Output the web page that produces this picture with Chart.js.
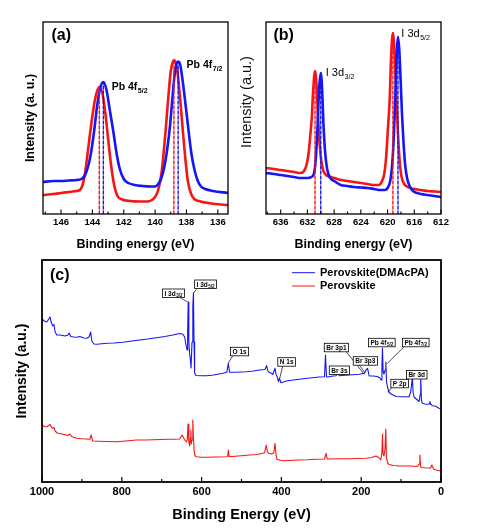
<!DOCTYPE html>
<html><head><meta charset="utf-8">
<script src="https://cdn.jsdelivr.net/npm/chart.js@4.4.1/dist/chart.umd.min.js"></script>
<style>
html,body{margin:0;padding:0;background:#fff;}
#wrap{position:relative;width:488px;height:529px;overflow:hidden;background:#fff;}
canvas{position:absolute;}
</style></head><body>
<div id="wrap">
<canvas id="ca" style="left:0;top:0;"></canvas>
<canvas id="cb" style="left:230px;top:0;"></canvas>
<canvas id="cc" style="left:0;top:250px;"></canvas>
</div>
<script>
// ---------------- DATA ----------------
// Panel (a) Pb 4f
const aEnergyBlue = [147.15,146.5,146,145.5,145,144.7,144.5,144.3,144.1,143.88,143.7,143.5,143.3,143.1,142.9,142.67,142.45,142.25,142.0,141.7,141.3,140.8,140.3,
  140.0,139.8,139.6,139.4,139.2,139.05,138.9,138.75,138.6,138.45,138.3,138.1,137.9,137.7,137.5,137.3,137.1,136.8,136.3,135.35];
const aIntBlue = [32,33,33,33.5,34,35,38,46,60,84,108,126,132,124,105,83,60,45,35,31,29,28,27.5,
  27.5,30,36,48,68,88,115,140,152,152,140,115,88,62,45,34,28,25,23,21];
const aEnergyRed = [147.15,146.5,146,145.5,145.0,144.8,144.65,144.5,144.35,144.2,144.0,143.8,143.56,143.35,143.15,142.99,142.8,142.6,142.4,142.1,141.6,141,140.5,
  140.2,140.0,139.8,139.6,139.45,139.33,139.15,139.0,138.78,138.6,138.4,138.23,138.05,137.9,137.7,137.5,137.2,136.8,136.2,135.35];
const aIntRed = [19,20,21,22,23,24,28,38,55,74,98,117,127,120,98,74,48,28,18,14.5,13,12.5,12.5,
  14,17,24,40,62,83,118,143,154,145,115,83,52,32,20,15,13,11.5,10,9];
const aPeakBlueE = [143.3, 138.53];
const aPeakBlueI = [132, 153];
const aPeakRedE = [143.56, 138.8];
const aPeakRedI = [127, 154];
const aTicksMajor = [146,144,142,140,138,136];
const aTicksMinor = [147,145,143,141,139,137];

// Panel (b) I 3d
const bEnergyRed = [638.2,637,636,635,634,633,632.5,632.1,631.8,631.55,631.36,631.15,630.86,630.6,630.4,630.15,629.9,629.6,629.2,628.5,628,627,626,625,624,623,622,621.3,
  620.9,620.5,620.2,619.95,619.7,619.45,619.2,618.95,618.65,618.4,618.15,617.9,617.5,617,616,615,614,613,612];
const bIntRed = [46,45,44,43,42,41,43,50,62,80,95,122,143,125,95,68,52,43,39,37,36,34,33,32,31,30,29,29,
  32,40,58,85,112,160,181,160,110,75,50,37,30,27,25,24,23,22.5,22];
const bEnergyBlue = [638.2,637,636,635,634,633,632,631.4,631.0,630.75,630.5,630.25,630.0,629.8,629.6,629.35,629.05,628.6,628,627,626,625,624,623,622,621,620.4,
  620.0,619.6,619.3,619.05,618.8,618.6,618.44,618.25,618.05,617.84,617.6,617.35,617.05,616.7,616.2,615,614,613,612];
const bIntBlue = [41,40,39,38,37,36,36,37,41,55,85,125,141,125,90,62,45,36,33,29,28,27,26.5,26,25,24,24,
  26,33,50,80,125,165,177,165,135,100,70,48,35,28,23,20,19,18,17];
const bPeakRedE = [630.86, 619.2];
const bPeakRedI = [143, 181];
const bPeakBlueE = [630.0, 618.44];
const bPeakBlueI = [141, 177];
const bTicksMajor = [636,632,628,624,620,616,612];
const bTicksMinor = [638,634,630,626,622,618,614];

// Panel (c) survey
const cEnergyBlue = [1000,994,988,983,980,977,973,970,967,963,
  955,948,942,935,932,928,920,913,905,895,
  888,882,878,875,870,862,850,838,820,797,
  775,755,735,713,692,672,655,647,642.5,639,
  636.5,635,633.5,632,630,628,626.5,624,622,620.5,
  619,617.5,614,600,588,570,546,537,533,530,
  513,488,470,455,441,437,434,431,425,421.5,
  416,413,410.5,407.5,405,401,395,388,370,355,
  340,322,305,292,289.5,287,285,270,263,259,
  255,240,230,205,192.5,188,184,180,170,160,
  153,150,148,146.7,145,143,140,138.3,136.5,134,
  131,125,120,113,100,90,80,76,73,71.7,
  70,67.5,62,59,55,52,50.8,49,46.7,40,
  34,30,28.3,26,21.7,15,10,5,0];
const cIntBlue = [163,161,160,163,165,160,156,157.5,150,147,
  147,146.5,146,147,149,145.5,145,144.7,145.5,144,
  143.7,145,150,141,138,137.7,138.2,138.7,139,139.7,
  141,142,143,144.3,145.5,147,148.5,147.7,145,137,
  132,150,180,140,128,122,114,140,175,189,
  140,109,106.5,106.3,106.3,107,108.7,109.7,118.7,109.7,
  109.7,110.3,111,112,112.5,116.5,111,109.7,108.7,107.5,
  113.7,107,105.3,100.3,103.7,99.3,100,101,102,102.7,
  103.5,104.3,105,105.3,127,105.3,105,106,106.3,108.7,
  106.3,106.8,107,107.7,108.7,112,113.7,106,106,105.5,
  104,102,115,134,110,108,112,120,100,95,
  90,88,87,85.5,85.3,85.3,85.3,90,100,105,
  90,85,83,82,80.3,88,106,82,78.7,78,
  77.7,78,80.5,78,76.3,76,75,73.7,73];
const cEnergyRed = [1000,994,988,983,980,976,973,970,967,962,
  955,945,935,930,926,913,900,880,877,873,
  860,840,813,790,763,740,720,700,688,670,
  655,649,645,642,638,636,634,632,630,628,
  627,626,624,622,620.5,618.5,616,613,600,588,
  560,538,534.5,533,531,515,500,480,460,442,
  438,435,432,425,419,416,413,411,405,397,
  380,355,333,313,292,288,285,260,230,210,
  188,175,163,155,151,148,146.7,145.2,143,140.5,
  138.3,136.8,133,130,120,105,90,75,62,58,
  55,53,51,48,40,30,26,23,21,18,
  10,3,0];
const cIntRed = [57,55.5,55.3,56.5,57.7,54.5,53.7,54.5,51,49,
  48.5,47.5,46.5,48,45.5,43.7,43.2,42.7,47,41,
  40.8,40.5,40.3,41,42,42,42.3,42.5,42.7,42.7,
  43,47,44,42,40,42,58,40,36,45,
  52,38,42,62,45,30,26,25.3,24.8,24.7,
  25,25.3,25.5,32,25.3,25.8,26.3,27,27.5,29.3,
  37,30,28.7,28,29,38.7,26,22.7,22,21.3,
  21.5,22,22.2,22.7,23,28.7,23,23.2,23.3,23.5,
  23.7,24.5,26,24,22,30,48,28,26,32,
  53,24,18.5,17.5,16.5,16,16,16,15.5,16,
  18,27,15,14.5,14.2,14,14,17,15,12.7,
  11.8,11.3,11];
const cTicksMajor = [1000,800,600,400,200,0];
const cTicksMinor = [900,700,500,300,100];
const cSeriesNames = ['Perovskite(DMAcPA)','Perovskite'];

// ---------------- HELPERS ----------------
const FONT = "Arial, 'Liberation Sans', Helvetica, sans-serif";
const BLUE = '#1515f5';
const RED = '#f51515';
function pts(xs, ys){ return xs.map((x,i)=>({x:x, y:ys[i]})); }
function allTicks(major, minor){ return major.concat(minor).sort((p,q)=>p-q); }
function dashSets(es, is, color){
  return es.map((e,i)=>({data:[{x:e,y:0},{x:e,y:is[i]}], borderColor:color, borderWidth:1.4, borderDash:[3,2], pointRadius:0, tension:0}));
}
function xScale(min,max,major,minor,tickFont,tickPad,title,titleFont,titlePad,height){
  return {
    type:'linear', min:min, max:max, reverse:true,
    afterBuildTicks: s => { s.ticks = allTicks(major,minor).map(v=>({value:v})); },
    afterFit: s => { s.height = height; },
    ticks:{ autoSkip:false, maxRotation:0, minRotation:0, padding:tickPad, color:'#000', font:tickFont,
      callback: v => major.includes(v) ? String(v) : '' },
    grid:{ display:false, drawTicks:false },
    border:{ display:false },
    title:{ display:true, text:title, color:'#000', font:titleFont, padding:{top:0,bottom:titlePad} }
  };
}
function yScale(max, width, title, titleFont, titlePad){
  return {
    type:'linear', min:0, max:max,
    afterFit: s => { s.width = width; },
    ticks:{ display:false }, grid:{ display:false, drawTicks:false }, border:{ display:false },
    title: title ? { display:true, text:title, color:'#000', font:titleFont, padding:{top:titlePad,bottom:0} } : { display:false }
  };
}
function subText(ctx, x, y, main, sub, font, subFont, subDy){
  ctx.font = font; ctx.fillText(main, x, y);
  const w = ctx.measureText(main).width;
  ctx.font = subFont; ctx.fillText(sub, x + w + 0.5, y + subDy);
  return w + 0.5 + ctx.measureText(sub).width;
}
function decor(cfg){
  return {
    id:'decor',
    afterDatasetsDraw(chart){
      const ctx = chart.ctx, ca = chart.chartArea, x = chart.scales.x, y = chart.scales.y;
      ctx.save();
      ctx.strokeStyle = '#000'; ctx.fillStyle = '#000';
      ctx.lineWidth = cfg.frame;
      ctx.strokeRect(ca.left, ca.top, ca.right - ca.left, ca.bottom - ca.top);
      ctx.lineWidth = cfg.tickW;
      x.ticks.forEach(t => {
        const px = x.getPixelForValue(t.value);
        const len = cfg.major.includes(t.value) ? cfg.majorLen : cfg.minorLen;
        ctx.beginPath(); ctx.moveTo(px, ca.bottom); ctx.lineTo(px, ca.bottom - len); ctx.stroke();
      });
      ctx.font = 'bold 16px ' + FONT; ctx.textBaseline = 'middle'; ctx.textAlign = 'left';
      ctx.fillText(cfg.letter, ca.left + cfg.letterDx, ca.top + cfg.letterDy);
      ctx.textBaseline = 'alphabetic';
      (cfg.labels || []).forEach(l => {
        subText(ctx, x.getPixelForValue(l.e), y.getPixelForValue(l.v), l.main, l.sub, l.font, l.subFont, l.subDy);
      });
      if (cfg.extra) cfg.extra(chart, ctx);
      ctx.restore();
    }
  };
}
function baseOptions(pad, scales){
  return {
    responsive:false, animation:false, devicePixelRatio: window.devicePixelRatio || 1,
    layout:{ padding: pad },
    plugins:{ legend:{display:false}, tooltip:{enabled:false} },
    elements:{ line:{ borderJoinStyle:'round', borderCapStyle:'round' } },
    scales: scales
  };
}
function sizeCanvas(id, w, h){ const c = document.getElementById(id); c.width = w; c.height = h; c.style.width = w+'px'; c.style.height = h+'px'; return c; }

// ---------------- PANEL (a) ----------------
new Chart(sizeCanvas('ca',244,258), {
  type:'line',
  data:{ datasets: [].concat(
    dashSets(aPeakBlueE, aPeakBlueI, BLUE),
    dashSets(aPeakRedE, aPeakRedI, RED),
    [{data:pts(aEnergyBlue,aIntBlue), borderColor:BLUE, borderWidth:2.6, pointRadius:0, cubicInterpolationMode:'monotone'},
     {data:pts(aEnergyRed,aIntRed), borderColor:RED, borderWidth:2.6, pointRadius:0, cubicInterpolationMode:'monotone'}]) },
  options: baseOptions({left:0,top:22,right:16,bottom:0}, {
    x: xScale(135.35,147.15,aTicksMajor,aTicksMinor,{family:FONT,size:9.5,weight:'bold'},3,
      'Binding energy (eV)',{family:FONT,size:12.5,weight:'bold'},5.5,44),
    y: yScale(192,43,'Intensity (a. u.)',{family:FONT,size:12.5,weight:'bold'},23.5)
  }),
  plugins:[decor({frame:1.3, tickW:1.1, major:aTicksMajor, majorLen:4.5, minorLen:2.5, letter:'(a)', letterDx:8.5, letterDy:14,
    labels:[
      {e:142.77, v:124, main:'Pb 4f', sub:'5/2', font:'bold 10.5px '+FONT, subFont:'bold 7px '+FONT, subDy:2.5},
      {e:137.99, v:145.7, main:'Pb 4f', sub:'7/2', font:'bold 10.5px '+FONT, subFont:'bold 7px '+FONT, subDy:2.5}
    ]})]
});

// ---------------- PANEL (b) ----------------
new Chart(sizeCanvas('cb',258,258), {
  type:'line',
  data:{ datasets: [].concat(
    dashSets(bPeakBlueE, bPeakBlueI, BLUE),
    dashSets(bPeakRedE, bPeakRedI, RED),
    [{data:pts(bEnergyBlue,bIntBlue), borderColor:BLUE, borderWidth:2.6, pointRadius:0, cubicInterpolationMode:'monotone'},
     {data:pts(bEnergyRed,bIntRed), borderColor:RED, borderWidth:2.6, pointRadius:0, cubicInterpolationMode:'monotone'}]) },
  options: baseOptions({left:0,top:22,right:47,bottom:0}, {
    x: xScale(612,638.2,bTicksMajor,bTicksMinor,{family:FONT,size:9.5,weight:'bold'},3,
      'Binding energy (eV)',{family:FONT,size:12.5,weight:'bold'},5.5,44),
    y: yScale(192,36,null)
  }),
  plugins:[decor({frame:1.3, tickW:1.1, major:bTicksMajor, majorLen:4.5, minorLen:2.5, letter:'(b)', letterDx:7.5, letterDy:14,
    labels:[
      {e:629.26, v:138, main:'I 3d', sub:'3/2', font:'11px '+FONT, subFont:'7px '+FONT, subDy:2.5},
      {e:617.94, v:176.7, main:'I 3d', sub:'5/2', font:'11px '+FONT, subFont:'7px '+FONT, subDy:2.5}
    ],
    extra:(chart, ctx) => {
      ctx.save();
      ctx.translate(17, 102); ctx.rotate(-Math.PI/2);
      ctx.font = '14.5px ' + FONT; ctx.textAlign = 'center'; ctx.textBaseline = 'middle'; ctx.fillStyle = '#111';
      ctx.fillText('Intensity (a.u.)', 0, 0);
      ctx.restore();
    }})]
});

// ---------------- PANEL (c) ----------------
const cBoxes = [
  {main:'I 3d', sub:'3/2', e:698, v:193},
  {main:'I 3d', sub:'5/2', e:617.5, v:202},
  {main:'O 1s', sub:'', e:527.5, v:134.7},
  {main:'N 1s', sub:'', e:409, v:124.3},
  {main:'Br 3p1', sub:'', e:292.5, v:138.7},
  {main:'Br 3s', sub:'', e:280, v:116},
  {main:'Br 3p3', sub:'', e:220, v:125.3},
  {main:'Pb 4f', sub:'5/2', e:181.7, v:143.7},
  {main:'Pb 4f', sub:'7/2', e:96.7, v:143.7},
  {main:'P 2p', sub:'', e:125.7, v:102.7},
  {main:'Br 3d', sub:'', e:86.7, v:111.5}
];
const cLeaders = [
  [651,183.7,635,180],[613,192.7,620,189],[521.7,126.3,533,119],[396.7,116,404,104],
  [238,130.5,192,107.5],[205,117,190,109],[92.5,135.3,136,118],[123.3,94.7,131.7,90]
];
new Chart(sizeCanvas('cc',488,279), {
  type:'line',
  data:{ datasets:[
    {label:cSeriesNames[0], data:pts(cEnergyBlue,cIntBlue), borderColor:BLUE, borderWidth:1.1, pointRadius:0, tension:0},
    {label:cSeriesNames[1], data:pts(cEnergyRed,cIntRed), borderColor:RED, borderWidth:1.1, pointRadius:0, tension:0}
  ]},
  options: baseOptions({left:0,top:10,right:47,bottom:0}, {
    x: xScale(0,1000,cTicksMajor,cTicksMinor,{family:FONT,size:11,weight:'bold'},3,
      'Binding Energy (eV)',{family:FONT,size:14.5,weight:'bold'},5.3,47),
    y: yScale(222,42,'Intensity (a.u.)',{family:FONT,size:14,weight:'bold'},13.6)
  }),
  plugins:[decor({frame:1.8, tickW:1.2, major:cTicksMajor, majorLen:5, minorLen:3, letter:'(c)', letterDx:8, letterDy:15.5,
    extra:(chart, ctx) => {
      const x = chart.scales.x, y = chart.scales.y, ca = chart.chartArea;
      // leaders
      ctx.strokeStyle = '#000'; ctx.lineWidth = 0.7;
      cLeaders.forEach(l => {
        ctx.beginPath();
        ctx.moveTo(x.getPixelForValue(l[0]), y.getPixelForValue(l[1]));
        ctx.lineTo(x.getPixelForValue(l[2]), y.getPixelForValue(l[3]));
        ctx.stroke();
      });
      // boxes
      cBoxes.forEach(b => {
        const left = x.getPixelForValue(b.e), top = y.getPixelForValue(b.v);
        ctx.font = 'bold 6.5px ' + FONT; const w1 = ctx.measureText(b.main).width;
        ctx.font = 'bold 4.5px ' + FONT; const w2 = b.sub ? ctx.measureText(b.sub).width + 0.5 : 0;
        const w = w1 + w2 + 4, h = 8.5;
        ctx.fillStyle = '#fff'; ctx.fillRect(left, top, w, h);
        ctx.lineWidth = 0.8; ctx.strokeStyle = '#000'; ctx.strokeRect(left, top, w, h);
        ctx.fillStyle = '#000'; ctx.textBaseline = 'alphabetic'; ctx.textAlign = 'left';
        subText(ctx, left + 2, top + 6.6, b.main, b.sub, 'bold 6.5px ' + FONT, 'bold 4.5px ' + FONT, 1.2);
      });
      // legend
      ctx.font = 'bold 11px ' + FONT; ctx.textBaseline = 'middle';
      chart.data.datasets.forEach((ds, i) => {
        const yy = ca.top + 12.7 + i * 13.3;
        ctx.strokeStyle = ds.borderColor; ctx.lineWidth = 1;
        ctx.beginPath(); ctx.moveTo(ca.right - 149, yy); ctx.lineTo(ca.right - 126, yy); ctx.stroke();
        ctx.fillStyle = '#000'; ctx.fillText(ds.label, ca.right - 121, yy);
      });
    }})]
});
</script>
</body></html>
